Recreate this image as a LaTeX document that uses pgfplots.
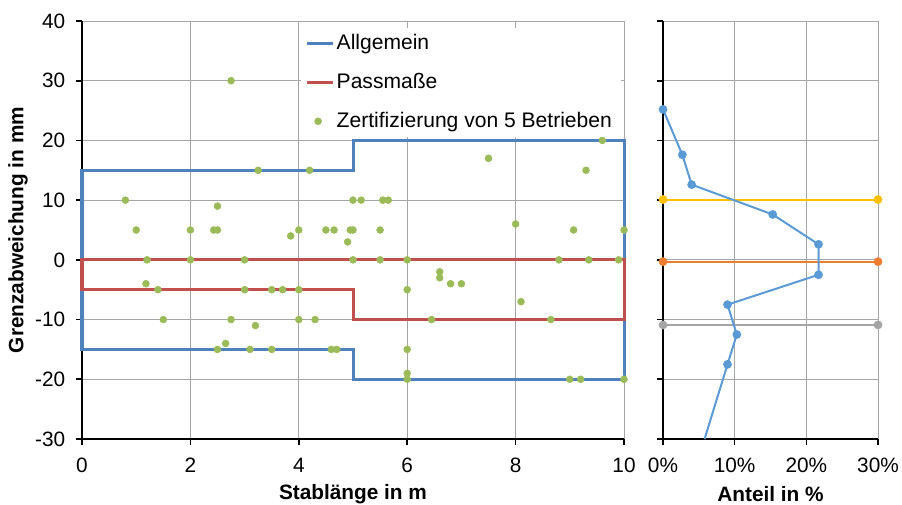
\documentclass[border=0pt]{standalone}
\usepackage{pgfplots}
\pgfplotsset{compat=1.18}
\usepackage{fontspec}
\setmainfont{Liberation Sans}
\definecolor{allg}{RGB}{79,129,189}
\definecolor{pass}{RGB}{192,80,77}
\definecolor{zert}{RGB}{155,187,89}
\definecolor{anteil}{RGB}{91,155,213}
\definecolor{gelb}{RGB}{255,192,0}
\definecolor{orng}{RGB}{237,125,49}
\definecolor{grau}{RGB}{165,165,165}
\pgfplotsset{lineleg/.style={legend image code/.code={\draw[##1] (0cm,0cm) -- (0.68cm,0cm);}}}
\begin{document}
\begin{tikzpicture}
\useasboundingbox (0,0) rectangle (676.5pt,378.75pt);
\pgfplotsset{
  every axis/.append style={
    font=\fontsize{15.6}{18}\selectfont,
    scale only axis,
    axis x line*=bottom, axis y line*=left,
    axis line style={black, line width=1.9pt},
    tick align=outside,
    major tick length=4.5pt,
    every tick/.style={black, line width=1.2pt},
    grid=major,
    major grid style={gray!70, line width=0.7pt},
    /pgf/number format/assume math mode=true,
    ymin=-30, ymax=40, ytick={-30,-20,...,40},
    yticklabel style={xshift=-4.6pt},
    xticklabel style={yshift=-6pt},
    label style={font=\fontsize{15.6}{18}\selectfont\bfseries},
    xlabel style={at={(axis description cs:0.5,-0.1316)}, anchor=center},
    clip=false,
  }
}
% ---------- left panel ----------
\begin{axis}[at={(61.5pt,49.5pt)}, anchor=south west,
  width=406.5pt, height=313.5pt,
  xmin=0, xmax=10, xtick={0,2,...,10},
  xlabel={Stablänge in m}, ylabel={Grenzabweichung in mm},
  ylabel style={at={(axis description cs:-0.118,0.5)}, anchor=center},
  legend style={at={(0.404,0.984)}, anchor=north west, draw=none, fill=white,
    font=\fontsize{15.8}{18}\selectfont, row sep=12.3pt, inner xsep=3pt, inner ysep=3pt},
  legend cell align=left]
\addplot[allg, line width=2.25pt, line join=miter, lineleg]
  coordinates {(0,15)(5,15)(5,20)(10,20)(10,-20)(5,-20)(5,-15)(0,-15)} -- cycle;
\addlegendentry{\makebox[208pt][l]{Allgemein}}
\addplot[pass, line width=2.25pt, line join=miter, lineleg]
  coordinates {(0,0)(10,0)(10,-10)(5,-10)(5,-5)(0,-5)} -- cycle;
\addlegendentry{Passmaße}
\addplot[only marks, mark=*, mark size=2.6pt, color=zert] coordinates {
(2.75,30) (0.8,10) (2.5,9) (1.0,5) (2.0,5) (2.43,5) (2.5,5) (1.2,0) (2.0,0)
(1.18,-4) (1.4,-5) (1.5,-10) (2.5,-15) (3.25,15) (4.2,15) (3.85,4) (4.0,5)
(4.5,5) (4.65,5) (4.9,3) (4.95,5) (5.0,5) (5.0,10) (3.0,0) (5.0,0) (3.0,-5)
(3.5,-5) (3.7,-5) (4.0,-5) (2.75,-10) (4.0,-10) (4.3,-10) (3.2,-11) (2.65,-14)
(3.1,-15) (3.5,-15) (4.6,-15) (4.7,-15) (7.5,17) (5.15,10) (5.55,10) (5.65,10)
(5.5,5) (5.5,0) (6.0,0) (6.6,-2) (6.6,-3) (6.8,-4) (7.0,-4) (6.0,-5) (6.45,-10)
(6.0,-15) (6.0,-19) (6.0,-20) (9.6,20) (9.3,15) (8.0,6) (9.07,5) (10,5) (8.8,0)
(9.35,0) (9.9,0) (8.1,-7) (8.65,-10) (9.0,-20) (9.2,-20) (10,-20)};
\addlegendentry{Zertifizierung von 5 Betrieben}
\end{axis}
% ---------- right panel ----------
\begin{axis}[at={(497.25pt,49.5pt)}, anchor=south west,
  width=161.25pt, height=313.5pt,
  xmin=0, xmax=30, xtick={0,10,20,30}, xticklabels={0\%,10\%,20\%,30\%},
  yticklabels={}, xlabel={Anteil in \%}]
\addplot[gelb, line width=1.5pt, mark=*, mark size=2.5pt] coordinates {(0,10.1)(30,10.1)};
\addplot[orng, line width=1.5pt, mark=*, mark size=2.5pt] coordinates {(0,-0.3)(30,-0.3)};
\addplot[grau, line width=1.5pt, mark=*, mark size=2.5pt] coordinates {(0,-10.9)(30,-10.9)};
\addplot[anteil, line width=1.5pt, mark=*, mark size=2.5pt, mark indices={1,2,3,4,5,6,7,8,9}]
  coordinates {(0,25.2)(2.7,17.6)(4.0,12.6)(15.3,7.6)(21.7,2.6)(21.7,-2.5)(9.0,-7.5)(10.3,-12.5)(9.0,-17.5)(5.8,-30)};
\end{axis}
\end{tikzpicture}
\end{document}
